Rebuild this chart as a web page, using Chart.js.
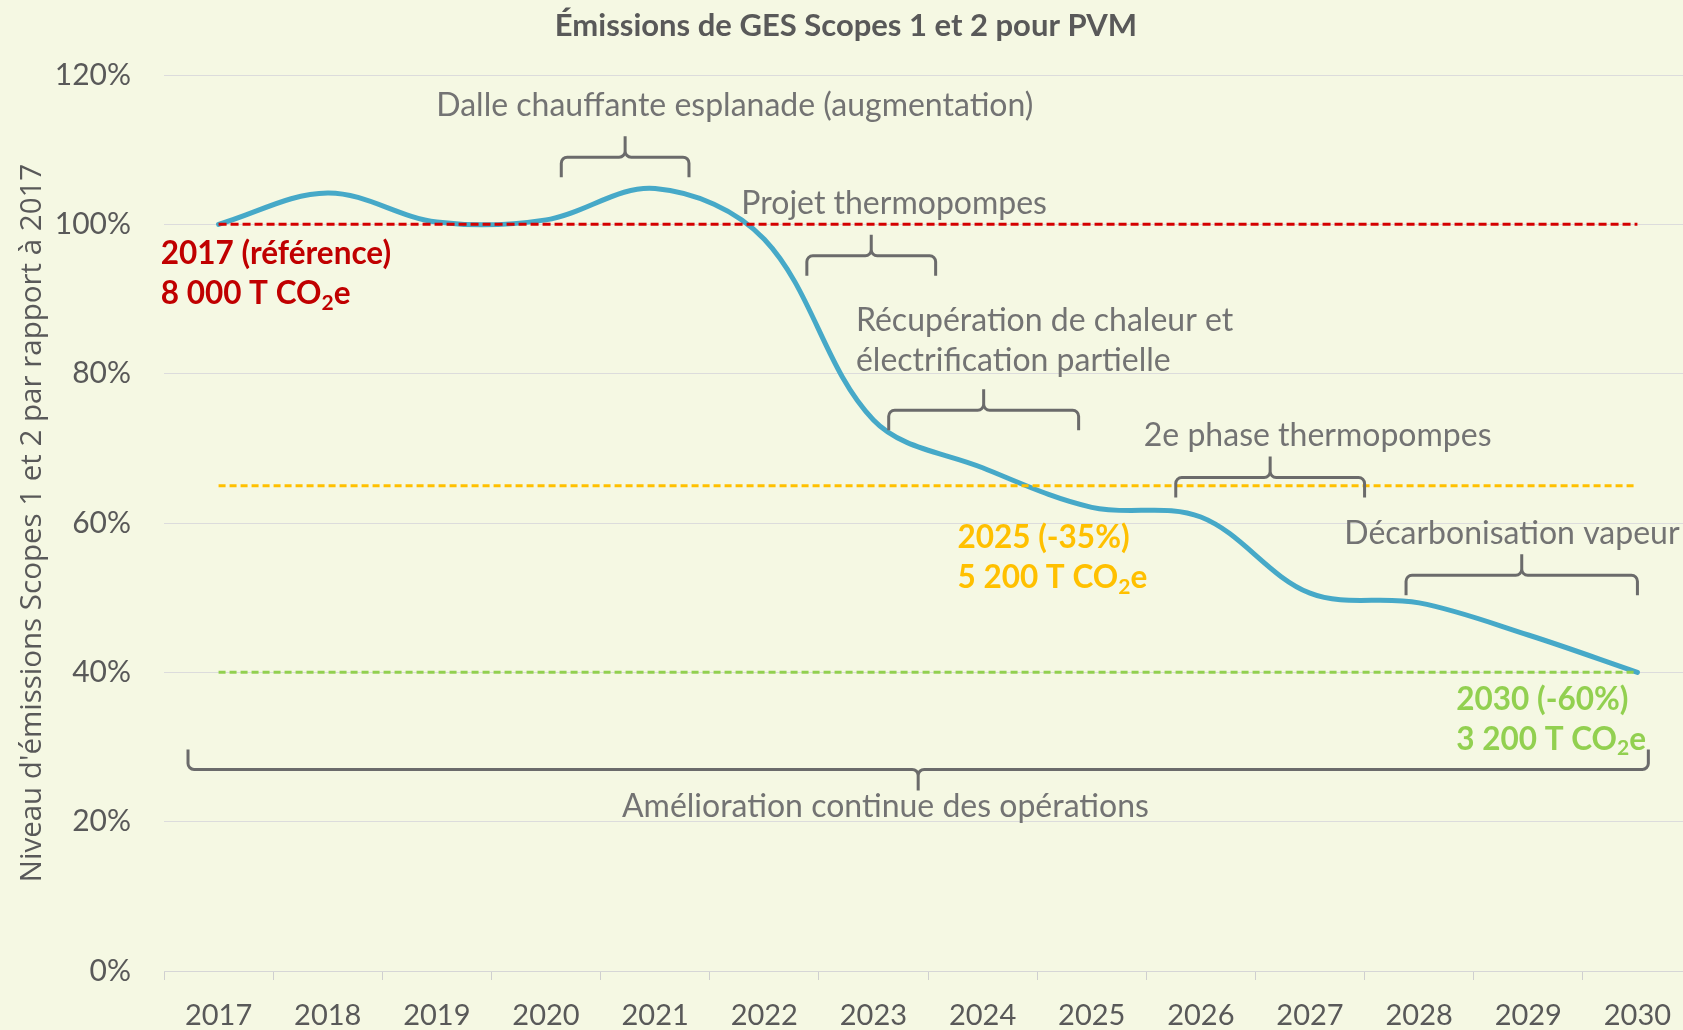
<!DOCTYPE html>
<html lang="fr">
<head>
<meta charset="utf-8">
<title>Émissions de GES Scopes 1 et 2 pour PVM</title>
<script src="https://cdn.jsdelivr.net/npm/chart.js@4.4.1/dist/chart.umd.min.js"></script>
<style>
  html, body { margin: 0; padding: 0; overflow: hidden; background: #f5f8e3; }
  #wrap { width: 1692px; height: 1030px; }
</style>
</head>
<body>
<div id="wrap"><canvas id="chart-ges" width="1692" height="1030"></canvas></div>
<script>
/* Émissions de GES Scopes 1 et 2 pour PVM – trajectoire 2017-2030 */

const YEARS = ['2017', '2018', '2019', '2020', '2021', '2022', '2023',
               '2024', '2025', '2026', '2027', '2028', '2029', '2030'];

// niveau d'émissions (% de 2017)
const EMISSIONS = [100, 104.2, 100.3, 100.6, 104.8, 98.0, 73.8,
                   67.4, 62.1, 60.8, 50.6, 49.3, 45.0, 40.0];

// lignes de référence / cibles
const REF_2017   = [100, 100, 100, 100, 100, 100, 100, 100, 100, 100, 100, 100, 100, 100];
const CIBLE_2025 = [65, 65, 65, 65, 65, 65, 65, 65, 65, 65, 65, 65, 65, 65];
const CIBLE_2030 = [40, 40, 40, 40, 40, 40, 40, 40, 40, 40, 40, 40, 40, 40];

const Y_MIN = 0;
const Y_MAX = 120;
const Y_STEP = 20;

// projets (accolades) : début, fin (années), niveau (%), sens
const PROJECTS = [
  { label: 'Dalle chauffante esplanade (augmentation)', from: 2020.14, to: 2021.31, level: 109.0 },
  { label: 'Projet thermopompes', from: 2022.39, to: 2023.57, level: 95.8 },
  { label: 'Récupération de chaleur et électrification partielle', from: 2023.14, to: 2024.88, level: 75.1 },
  { label: '2e phase thermopompes', from: 2025.77, to: 2027.50, level: 66.1 },
  { label: 'Décarbonisation vapeur', from: 2027.88, to: 2030.00, level: 53.0 },
  { label: 'Amélioration continue des opérations', from: 2016.72, to: 2030.10, level: 27.0, flip: true },
];

// textes des projets : lignes, position (année, %), alignement
const PROJECT_TEXTS = [
  { lines: ['Dalle chauffante esplanade (augmentation)'], year: 2021.73, pct: [115.9], align: 'center' },
  { lines: ['Projet thermopompes'], year: 2023.19, pct: [102.7], align: 'center' },
  { lines: ['Récupération de chaleur et', 'électrification partielle'], year: 2022.84, pct: [87.1, 81.75], align: 'left' },
  { lines: ['2e phase thermopompes'], year: 2027.07, pct: [71.7], align: 'center' },
  { lines: ['Décarbonisation vapeur'], year: 2028.85, pct: [58.6], align: 'center' },
  { lines: ['Amélioration continue des opérations'], year: 2023.11, pct: [22.0], align: 'center' },
];

// étiquettes des cibles
const TARGET_LABELS = [
  { title: '2017 (référence)', tonnes: '8 000', year: 2016.47, pct: [96.0, 90.7], color: '#c00000' },
  { title: '2025 (-35%)', tonnes: '5 200', year: 2023.77, pct: [58.0, 52.6], color: '#ffc000' },
  { title: '2030 (-60%)', tonnes: '3 200', year: 2028.34, pct: [36.35, 31.0], color: '#92d050' },
];

const FONT = 'Lato, "Open Sans", sans-serif';
const GREY_TEXT = '#737373';
const AXIS_TEXT = '#595959';

// Draw one curly bracket (ends go down, tip goes up; flip inverts)
function drawBracket(ctx, x1, x2, y, flip) {
  const dir = flip ? -1 : 1;
  const depth = 20 * dir;
  const tip = 21 * dir;
  const r = 6;
  const xm = (x1 + x2) / 2;
  ctx.beginPath();
  ctx.moveTo(x1, y + depth);
  ctx.arcTo(x1, y, xm, y, r);
  ctx.arcTo(xm, y, xm, y - tip, r);
  ctx.lineTo(xm, y - tip);
  ctx.moveTo(x2, y + depth);
  ctx.arcTo(x2, y, xm, y, r);
  ctx.arcTo(xm, y, xm, y - tip, r);
  ctx.lineTo(xm, y - tip);
  ctx.stroke();
}

// "5 200 T CO2e" with a real subscript 2
function drawTonnes(ctx, tonnes, x, y) {
  const main = tonnes + ' T CO';
  ctx.fillText(main, x, y);
  let cx = x + ctx.measureText(main).width;
  const big = ctx.font;
  ctx.font = 'bold 21px ' + FONT;
  ctx.fillText('2', cx, y + 9);
  cx += ctx.measureText('2').width;
  ctx.font = big;
  ctx.fillText('e', cx, y);
}

const annotationPlugin = {
  id: 'annotations',
  afterDatasetsDraw(chart) {
    const { ctx, scales: { x, y } } = chart;
    const px = year => x.getPixelForValue(year - 2017);
    ctx.save();

    // accolades
    ctx.strokeStyle = '#6b6b6b';
    ctx.lineWidth = 3;
    ctx.lineJoin = 'round';
    PROJECTS.forEach(p => drawBracket(ctx, px(p.from), px(p.to), y.getPixelForValue(p.level), p.flip));

    // textes des projets
    ctx.fillStyle = GREY_TEXT;
    ctx.font = '32px ' + FONT;
    ctx.textBaseline = 'middle';
    PROJECT_TEXTS.forEach(t => {
      ctx.textAlign = t.align;
      t.lines.forEach((line, i) => ctx.fillText(line, px(t.year), y.getPixelForValue(t.pct[i])));
    });

    // étiquettes des cibles
    ctx.textAlign = 'left';
    ctx.font = 'bold 31.5px ' + FONT;
    TARGET_LABELS.forEach(t => {
      ctx.fillStyle = t.color;
      ctx.fillText(t.title, px(t.year), y.getPixelForValue(t.pct[0]));
      drawTonnes(ctx, t.tonnes, px(t.year), y.getPixelForValue(t.pct[1]));
    });
    ctx.restore();
  },
};

function dashed(label, data, color, dash) {
  return {
    label,
    data,
    borderColor: color,
    borderWidth: 3,
    borderDash: dash,
    pointRadius: 0,
    tension: 0,
    fill: false,
  };
}

function buildChart() {
  const ctx = document.getElementById('chart-ges').getContext('2d');

  new Chart(ctx, {
    type: 'line',
    data: {
      labels: YEARS,
      datasets: [
        dashed('Référence 2017', REF_2017, '#d40000', [8, 4]),
        dashed('Cible 2025', CIBLE_2025, '#ffc000', [7, 4]),
        dashed('Cible 2030', CIBLE_2030, '#92d050', [7, 4]),
        {
          label: 'Émissions Scopes 1 et 2',
          data: EMISSIONS,
          borderColor: '#46a9c8',
          borderWidth: 5,
          borderCapStyle: 'round',
          pointRadius: 0,
          tension: 0.35,
          fill: false,
        },
      ],
    },
    options: {
      responsive: false,
      animation: false,
      layout: { padding: { left: 0, right: 0, top: 0, bottom: 0 } },
      plugins: {
        legend: { display: false },
        tooltip: { enabled: false },
        title: {
          display: true,
          text: 'Émissions de GES Scopes 1 et 2 pour PVM',
          color: AXIS_TEXT,
          font: { family: FONT, size: 31, weight: 'bold', lineHeight: 1.2 },
          padding: { top: 7.4, bottom: 30.4 },
        },
      },
      scales: {
        x: {
          offset: true,
          grid: { offset: true, drawOnChartArea: false, tickLength: 9, color: '#cfcfcf' },
          border: { display: true, color: '#d6d6d6', width: 1 },
          ticks: { color: AXIS_TEXT, font: { family: FONT, size: 29 }, padding: 18, maxRotation: 0 },
          afterFit: scale => { scale.height = 59; },
        },
        y: {
          min: Y_MIN,
          max: Y_MAX,
          grid: { color: '#dcdcdc', drawTicks: false },
          border: { display: false },
          ticks: {
            stepSize: Y_STEP,
            color: AXIS_TEXT,
            font: { family: FONT, size: 30 },
            padding: 33,
            callback: v => v + '%',
          },
          title: {
            display: true,
            text: "Niveau d'émissions Scopes 1 et 2 par rapport à 2017",
            color: AXIS_TEXT,
            font: { family: '"Open Sans", sans-serif', size: 29.5 },
            padding: { top: 15, bottom: 0 },
          },
          afterFit: scale => { scale.width = 164; },
        },
      },
    },
    plugins: [annotationPlugin],
  });
}

document.addEventListener('DOMContentLoaded', buildChart);
</script>
</body>
</html>
